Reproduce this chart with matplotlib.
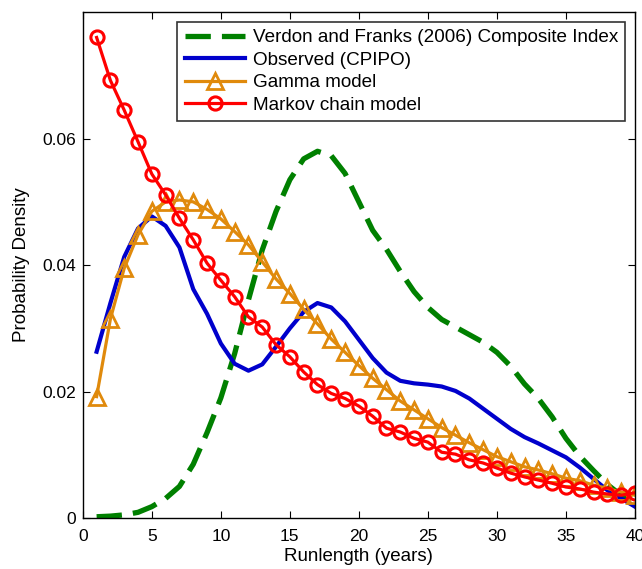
import matplotlib
matplotlib.use("Agg")
import matplotlib.pyplot as plt
import numpy as np

plt.rcParams['font.family'] = ['Liberation Sans', 'DejaVu Sans']

runlength = list(range(1, 41))

verdon = [0.0002, 0.0003, 0.0005, 0.0009, 0.0018, 0.0031, 0.0050, 0.0085, 0.0135, 0.0190,
          0.0260, 0.0345, 0.0424, 0.0485, 0.0535, 0.0568, 0.0580, 0.0573, 0.0545, 0.0500,
          0.0455, 0.0425, 0.0390, 0.0358, 0.0333, 0.0314, 0.0302, 0.0290, 0.0278, 0.0262,
          0.0240, 0.0212, 0.0189, 0.0160, 0.0126, 0.0098, 0.0075, 0.0053, 0.0036, 0.0025]

observed = [0.0263, 0.0340, 0.0413, 0.0458, 0.0477, 0.0462, 0.0428, 0.0362, 0.0323, 0.0276,
            0.0244, 0.0233, 0.0243, 0.0271, 0.0300, 0.0326, 0.0340, 0.0333, 0.0311, 0.0282,
            0.0253, 0.0230, 0.0217, 0.0213, 0.0211, 0.0208, 0.0201, 0.0189, 0.0173, 0.0157,
            0.0141, 0.0128, 0.0118, 0.0107, 0.0096, 0.0080, 0.0062, 0.0044, 0.0031, 0.0018]

gamma = [0.0192, 0.0315, 0.0395, 0.0448, 0.0485, 0.0500, 0.0503, 0.0500, 0.0488, 0.0473,
         0.0453, 0.0432, 0.0405, 0.0378, 0.0355, 0.0330, 0.0307, 0.0283, 0.0262, 0.0241,
         0.0221, 0.0203, 0.0185, 0.0171, 0.0157, 0.0143, 0.0131, 0.0119, 0.0108, 0.0097,
         0.0089, 0.0081, 0.0076, 0.0070, 0.0063, 0.0059, 0.0052, 0.0047, 0.0041, 0.0036]

markov = [0.0760, 0.0692, 0.0645, 0.0595, 0.0544, 0.0511, 0.0474, 0.0440, 0.0403, 0.0376,
          0.0350, 0.0318, 0.0302, 0.0274, 0.0255, 0.0231, 0.0211, 0.0197, 0.0189, 0.0177,
          0.0161, 0.0142, 0.0136, 0.0126, 0.0120, 0.0104, 0.0101, 0.0092, 0.0087, 0.0079,
          0.0071, 0.0065, 0.0060, 0.0055, 0.0049, 0.0046, 0.0041, 0.0038, 0.0036, 0.0040]

xticks = [0, 5, 10, 15, 20, 25, 30, 35, 40]
yticks = [0, 0.02, 0.04, 0.06]
ytick_labels = ["0", "0.02", "0.04", "0.06"]

fig = plt.figure(figsize=(6.42, 5.69), dpi=100)
ax = fig.add_axes([0.129, 0.0896, 0.860, 0.889])

ax.plot(runlength, verdon, color='#008000', lw=3.8, linestyle=(0, (4.8, 2.1)),
        label='Verdon and Franks (2006) Composite Index')
ax.plot(runlength, observed, color='#0000cc', lw=3.0, label='Observed (CPIPO)')
ax.plot(runlength, gamma, color='#e08a0c', lw=2.3, marker='^', markersize=11,
        markerfacecolor='none', markeredgewidth=2.0, markeredgecolor='#e08a0c',
        label='Gamma model')
ax.plot(runlength, markov, color='#ff0000', lw=2.3, marker='o', markersize=9.5,
        markerfacecolor='none', markeredgewidth=2.2, markeredgecolor='#ff0000',
        label='Markov chain model')

ax.set_xlim(0, 40)
ax.set_ylim(0, 0.08)
ax.set_xticks(xticks)
ax.set_yticks(yticks)
ax.set_yticklabels(ytick_labels)
ax.tick_params(direction='in', top=True, right=True, labelsize=12.5, length=5, width=0.8)
ax.tick_params(axis='x', pad=8)
ax.tick_params(axis='y', pad=5)
for s in ax.spines.values():
    s.set_linewidth(1.0)

ax.set_xlabel('Runlength (years)', fontsize=13.5, labelpad=3)
ax.set_ylabel('Probability Density', fontsize=13.5, labelpad=9)

leg = ax.legend(loc='upper right', fontsize=13.6, numpoints=1, handlelength=3.2,
                frameon=True, fancybox=False, edgecolor='black', borderpad=0.4,
                labelspacing=0.28, borderaxespad=0.5, handletextpad=0.4)
leg.get_frame().set_linewidth(1.2)

fig.savefig('out.png', dpi=100)
